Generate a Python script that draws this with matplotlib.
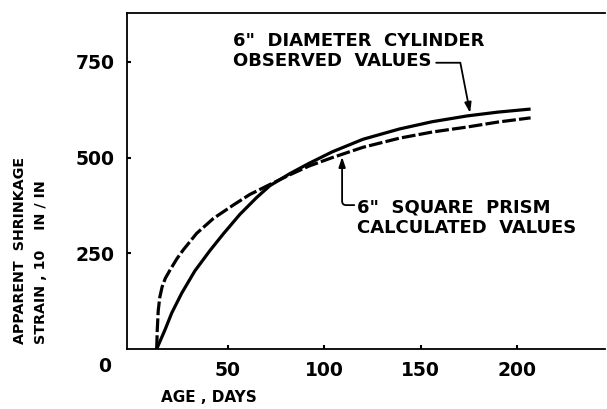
import matplotlib
matplotlib.use("Agg")
import matplotlib.pyplot as plt

# ---- data ----
obs_days = [13, 17.3, 20.8, 26, 32.8, 40.6, 47.6, 56.2, 64.9, 71.8, 82, 92, 104, 120, 139, 156, 174, 190, 207]
obs_vals = [0, 50, 94, 146, 204, 257, 301, 352, 396, 427, 458, 485, 515, 548, 575, 594, 609, 619, 627]

calc_days = [13, 13.3, 13.8, 14.6, 15.8, 17.5, 20, 23.5, 26.8, 33.7, 42.4, 52.7, 61.4, 71.8, 82, 92, 104, 120, 139, 156, 174, 190, 207]
calc_vals = [0, 50, 100, 135, 162, 185, 207, 236, 259, 302, 341, 376, 404, 430, 455, 478, 500, 527, 551, 567, 580, 593, 604]

x_ticks = [50, 100, 150, 200]
x_tick_labels = ["50", "100", "150", "200"]
y_ticks = [250, 500, 750]
y_tick_labels = ["250", "500", "750"]

W, H = 607, 409
fig = plt.figure(figsize=(W / 100, H / 100), dpi=100)
fig.patch.set_facecolor("white")

def px(x0, y0, x1, y1):
    return [x0 / W, 1 - y1 / H, (x1 - x0) / W, (y1 - y0) / H]

ax = fig.add_axes(px(127, 13, 605, 349))
ax.set_xlim(-2.4, 245.6)
ax.set_ylim(0, 878)

ax.plot(obs_days, obs_vals, color="black", lw=2.3, solid_capstyle="butt", solid_joinstyle="round")
ax.plot(calc_days, calc_vals, color="black", lw=2.3, dashes=(4.3, 1.0))

for s in ["left", "bottom", "top"]:
    ax.spines[s].set_linewidth(1.3)
    ax.spines[s].set_color("black")
ax.spines["right"].set_visible(False)

ax.set_xticks(x_ticks)
ax.set_xticklabels(x_tick_labels)
ax.set_yticks(y_ticks)
ax.set_yticklabels(y_tick_labels)
ax.tick_params(axis="both", direction="in", length=3, width=1.5, labelsize=13.5)
ax.tick_params(axis="x", pad=9)
ax.tick_params(axis="y", pad=9)
for lab in ax.get_xticklabels() + ax.get_yticklabels():
    lab.set_fontweight("bold")

# origin label
fig.text(105 / W, 1 - 367 / H, "0", fontsize=13.5, fontweight="bold", ha="center", va="center")

# axis labels
lab_fs = 10.3
fig.text(20 / W, 1 - 344 / H, "APPARENT  SHRINKAGE", rotation=90, rotation_mode="anchor",
         ha="left", va="center", fontsize=lab_fs, fontweight="bold")
fig.text(41 / W, 1 - 344 / H, "STRAIN , 10    IN / IN", rotation=90, rotation_mode="anchor",
         ha="left", va="center", fontsize=lab_fs, fontweight="bold")
fig.text(209 / W, 1 - 398 / H, "AGE , DAYS", ha="center", va="center",
         fontsize=11, fontweight="bold")

# annotations
tfs = 13
ax.text(52.6, 805, '6"  DIAMETER  CYLINDER', ha="left", va="center", fontsize=tfs, fontweight="bold")
ax.text(52.6, 752, "OBSERVED  VALUES", ha="left", va="center", fontsize=tfs, fontweight="bold")
ax.annotate("", xy=(175.6, 617), xytext=(158.0, 748),
            arrowprops=dict(arrowstyle="-|>,head_length=0.6,head_width=0.2", color="black",
                            lw=1.3, shrinkA=0, shrinkB=0, mutation_scale=10,
                            connectionstyle="angle,angleA=0,angleB=101,rad=0"))

ax.text(117.0, 371, '6"  SQUARE  PRISM', ha="left", va="center", fontsize=tfs, fontweight="bold")
ax.text(117.0, 316, "CALCULATED  VALUES", ha="left", va="center", fontsize=tfs, fontweight="bold")
ax.annotate("", xy=(109.2, 502), xytext=(115.5, 376),
            arrowprops=dict(arrowstyle="-|>,head_length=0.6,head_width=0.2", color="black",
                            lw=1.3, shrinkA=0, shrinkB=0, mutation_scale=10,
                            connectionstyle="angle,angleA=180,angleB=90,rad=4"))

fig.savefig("out.png", dpi=100, facecolor="white")
